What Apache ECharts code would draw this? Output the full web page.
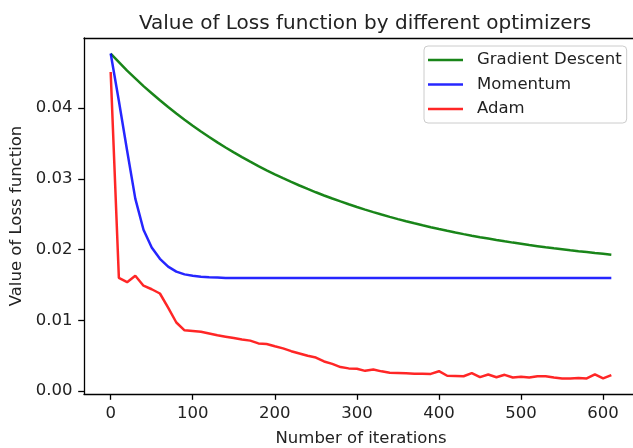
<!DOCTYPE html>
<html><head><meta charset="utf-8">
<script src="https://cdn.jsdelivr.net/npm/echarts@6/dist/echarts.min.js"></script>
<style>html,body{margin:0;padding:0;background:#fff}#c{width:633px;height:448px}</style>
</head><body><div id="c"></div>
<script>
const iterations = [0,10,20,30,40,50,60,70,80,90,100,110,120,130,140,150,160,170,180,190,200,210,220,230,240,250,260,270,280,290,300,310,320,330,340,350,360,370,380,390,400,410,420,430,440,450,460,470,480,490,500,510,520,530,540,550,560,570,580,590,600,610];
const gradientDescent = [0.0477,0.0465,0.0453,0.0442,0.0431,0.0421,0.0411,0.04015,0.03924,0.03835,0.03751,0.03669,0.03591,0.03515,0.03443,0.03374,0.03307,0.03242,0.03181,0.03121,0.03064,0.03009,0.02957,0.02906,0.02857,0.0281,0.02765,0.02722,0.02681,0.02641,0.02602,0.02565,0.0253,0.02496,0.02463,0.02431,0.02401,0.02372,0.02344,0.02317,0.02291,0.02266,0.02242,0.02219,0.02197,0.02176,0.02156,0.02136,0.02117,0.02099,0.02082,0.02065,0.02049,0.02033,0.02018,0.02004,0.0199,0.01977,0.01965,0.01952,0.01941,0.01929];
const momentum = [0.0477,0.041,0.034,0.0272,0.0228,0.0203,0.0187,0.0176,0.0169,0.0165,0.0163,0.01617,0.0161,0.01605,0.016,0.016,0.016,0.016,0.016,0.016,0.016,0.016,0.016,0.016,0.016,0.016,0.016,0.016,0.016,0.016,0.016,0.016,0.016,0.016,0.016,0.016,0.016,0.016,0.016,0.016,0.016,0.016,0.016,0.016,0.016,0.016,0.016,0.016,0.016,0.016,0.016,0.016,0.016,0.016,0.016,0.016,0.016,0.016,0.016,0.016,0.016,0.016];
const adam = [0.0451,0.016,0.0154,0.0163,0.0149,0.0144,0.0138,0.0118,0.0097,0.0086,0.0085,0.0084,0.00815,0.0079,0.0077,0.0075,0.0073,0.00714,0.00675,0.00667,0.00635,0.00605,0.00565,0.00533,0.005,0.00475,0.0042,0.00385,0.0034,0.00322,0.00316,0.00287,0.00306,0.0028,0.0026,0.00256,0.00252,0.00246,0.00245,0.00244,0.00282,0.00218,0.00215,0.00211,0.00254,0.00198,0.00235,0.00197,0.00231,0.00193,0.00205,0.00192,0.0021,0.0021,0.00192,0.0018,0.0018,0.00186,0.0018,0.00238,0.0018,0.00228];
const xTicks = [0,100,200,300,400,500,600];
const yTicks = [0,0.01,0.02,0.03,0.04];
const seriesNames = ['Gradient Descent','Momentum','Adam'];
const seriesColors = ['rgba(0,120,0,0.9)','rgba(0,0,255,0.85)','rgba(255,0,0,0.85)'];
const titleText = 'Value of Loss function by different optimizers';
const xName = 'Number of iterations';
const yName = 'Value of Loss function';

const FONT = "'DejaVu Sans', sans-serif";
const chart = echarts.init(document.getElementById('c'), null, {renderer:'canvas'});
const pair = arr => iterations.map((x,i)=>[x, arr[i]]);
const seriesData = [gradientDescent, momentum, adam];
const X_MIN = -32.5, X_MAX = 642.5;

chart.setOption({
  animation:false,
  backgroundColor:'#fff',
  title:{text:titleText, left:360, textAlign:'center', top:9,
    textStyle:{fontFamily:FONT, fontSize:20, fontWeight:'normal', color:'#222'}},
  legend:{
    data:seriesNames.map(n=>({name:n, icon:'rect'})),
    orient:'vertical', left:424, top:46,
    itemWidth:35, itemHeight:2.5, itemGap:7.5,
    padding:[5.5,5,5.5,4],
    borderColor:'#cccccc', borderWidth:1, borderRadius:4,
    backgroundColor:'rgba(255,255,255,0.8)',
    textStyle:{fontFamily:FONT, fontSize:16.5, color:'#222', lineHeight:17, padding:[0,0,0,9]}
  },
  grid:{left:84, top:38, width:554, height:356, outerBoundsMode:'none', containLabel:false, show:false},
  xAxis:[{type:'value', min:X_MIN, max:X_MAX,
    axisLine:{show:true, onZero:false, lineStyle:{color:'#000', width:1.3}},
    axisTick:{show:true, length:5.8, customValues:xTicks, lineStyle:{color:'#000', width:1.3}},
    axisLabel:{customValues:xTicks, fontFamily:FONT, fontSize:16.5, color:'#222', margin:11.5},
    splitLine:{show:false},
    name:xName, nameLocation:'middle', nameGap:36,
    nameTextStyle:{fontFamily:FONT, fontSize:16.5, color:'#222'}},
   {type:'value', position:'top', min:X_MIN, max:X_MAX,
    axisLine:{show:true, onZero:false, lineStyle:{color:'#000', width:1.3}},
    axisTick:{show:false}, axisLabel:{show:false}, splitLine:{show:false}}],
  yAxis:{type:'value', min:-0.0004, max:0.0499,
    axisLine:{show:true, onZero:false, lineStyle:{color:'#000', width:1.3}},
    axisTick:{show:true, length:5.8, customValues:yTicks, lineStyle:{color:'#000', width:1.3}},
    axisLabel:{customValues:yTicks, fontFamily:FONT, fontSize:16.5, color:'#222', margin:11.5,
      formatter:v=>v.toFixed(2)},
    splitLine:{show:false},
    name:yName, nameLocation:'middle', nameGap:54, nameRotate:90,
    nameTextStyle:{fontFamily:FONT, fontSize:16.5, color:'#222'}},
  series:seriesNames.map((n,i)=>({
    name:n, type:'line', xAxisIndex:0, data:pair(seriesData[i]),
    showSymbol:false, symbol:'none', color:seriesColors[i],
    lineStyle:{width:2.5, color:seriesColors[i]}, clip:true
  }))
});
</script></body></html>
